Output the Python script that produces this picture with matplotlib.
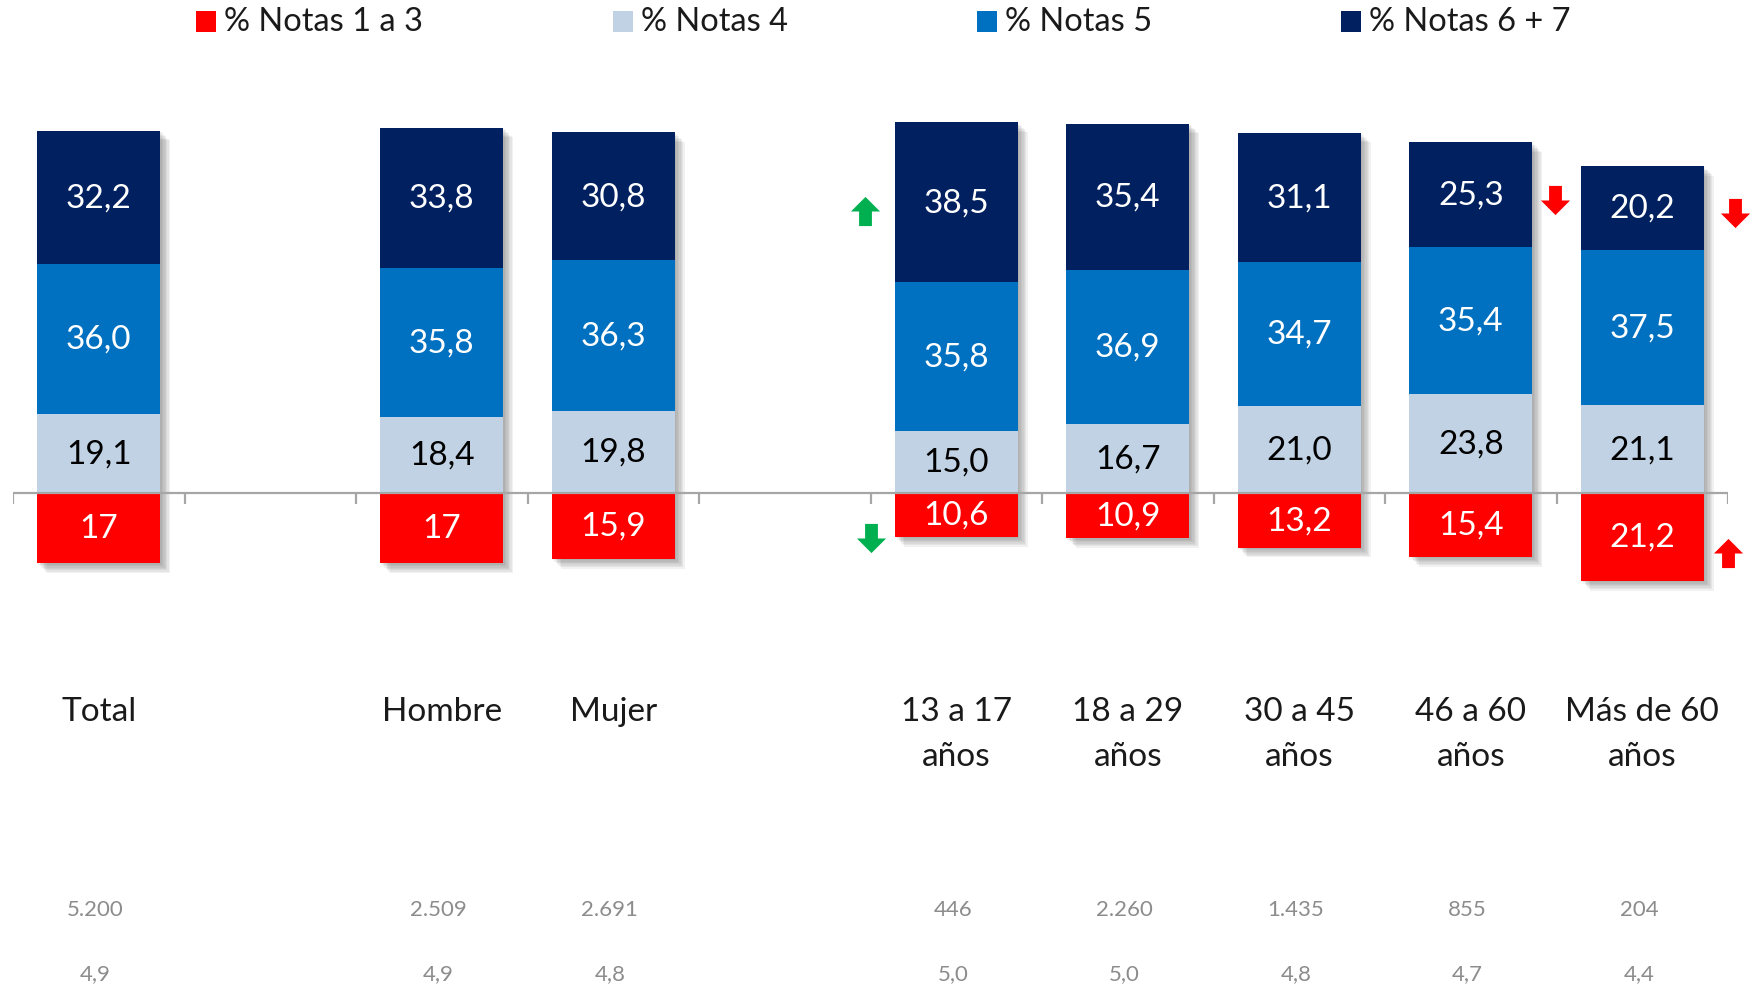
import numpy as np
import matplotlib
matplotlib.use('Agg')
import matplotlib.pyplot as plt
from matplotlib.patches import Rectangle
from matplotlib.path import Path
import matplotlib.patheffects as pe

plt.rcParams['font.family'] = ['Lato', 'DejaVu Sans']

# slot index of each bar (slots 1 and 4 are left empty as separators)
slots = [0, 2, 3, 5, 6, 7, 8, 9]
categories = ['Total', 'Hombre', 'Mujer', '13 a 17\naños', '18 a 29\naños',
              '30 a 45\naños', '46 a 60\naños', 'Más de 60\naños']
notas_1_3 = [17, 17, 15.9, 10.6, 10.9, 13.2, 15.4, 21.2]
notas_1_3_lbl = ['17', '17', '15,9', '10,6', '10,9', '13,2', '15,4', '21,2']
notas_4 = [19.1, 18.4, 19.8, 15.0, 16.7, 21.0, 23.8, 21.1]
notas_5 = [36.0, 35.8, 36.3, 35.8, 36.9, 34.7, 35.4, 37.5]
notas_6_7 = [32.2, 33.8, 30.8, 38.5, 35.4, 31.1, 25.3, 20.2]
base_n = ['5.200', '2.509', '2.691', '446', '2.260', '1.435', '855', '204']
media = ['4,9', '4,9', '4,8', '5,0', '5,0', '4,8', '4,7', '4,4']

series_names = ['% Notas 1 a 3', '% Notas 4', '% Notas 5', '% Notas 6 + 7']
colors = ['#FF0000', '#C0D2E4', '#0070C0', '#002060']

# trend arrows: (slot, value, direction, colour)
arrows = [(4.47, 68, 'up', '#00B050'), (4.5, -10.8, 'down', '#00B050'),
          (8.49, 70.5, 'down', '#FF0000'), (9.54, 67.5, 'down', '#FF0000'),
          (9.5, -14.5, 'up', '#FF0000')]

W, H = 1754, 987
fig = plt.figure(figsize=(W / 100, H / 100), dpi=100)
ax = fig.add_axes([13 / W, 0, 1715 / W, 1])
ax.set_xlim(-0.5, 9.5)
ax.set_ylim(-118.8, 119.0)

x = np.array(slots, dtype=float)
bw = 0.72

neg = -np.array(notas_1_3)
ax.bar(x, neg, bw, color=colors[0], zorder=3)
ax.bar(x, notas_4, bw, color=colors[1], zorder=3)
ax.bar(x, notas_5, bw, bottom=notas_4, color=colors[2], zorder=3)
bot3 = np.array(notas_4) + np.array(notas_5)
ax.bar(x, notas_6_7, bw, bottom=bot3, color=colors[3], zorder=3)

# soft drop shadow: several faint offset copies behind each stack
soft = [pe.SimplePatchShadow(offset=(d, -d), shadow_rgbFace='#404040', alpha=0.07)
        for d in (1, 2, 3, 4, 5, 6, 7)]
for xi, top, r in zip(x, bot3 + np.array(notas_6_7), neg):
    for y0, h in [(0, top), (r, -r)]:
        sh = Rectangle((xi - bw / 2, y0), bw, h, facecolor='white', zorder=2)
        sh.set_path_effects(soft)
        ax.add_patch(sh)

fs = 24
for i, xi in enumerate(x):
    ax.text(xi, neg[i] / 2, notas_1_3_lbl[i], ha='center', va='center', color='white', fontsize=fs, zorder=5)
    ax.text(xi, notas_4[i] / 2, f'{notas_4[i]:.1f}'.replace('.', ','), ha='center', va='center',
            color='black', fontsize=fs, zorder=5)
    ax.text(xi, notas_4[i] + notas_5[i] / 2, f'{notas_5[i]:.1f}'.replace('.', ','), ha='center',
            va='center', color='white', fontsize=fs, zorder=5)
    ax.text(xi, bot3[i] + notas_6_7[i] / 2, f'{notas_6_7[i]:.1f}'.replace('.', ','), ha='center',
            va='center', color='white', fontsize=fs, zorder=5)
    lines = categories[i].split('\n')
    for k, ln in enumerate(lines):
        ax.text(xi, -52.5 - k * 10.9, ln, ha='center', va='center', color='#1a1a1a', fontsize=fs)
    ax.text(xi - 0.02, -100.2, base_n[i], ha='center', va='center', color='#8c8c8c', fontsize=16)
    ax.text(xi - 0.02, -115.6, media[i], ha='center', va='center', color='#8c8c8c', fontsize=16)

# zero axis with tick marks between slots
ax.axhline(0, color='#a6a6a6', lw=1.6, zorder=4)
ax.vlines(np.arange(-0.5, 10, 1), -2.6, 0, color='#a6a6a6', lw=1.6, zorder=4)
for s in ax.spines.values():
    s.set_visible(False)
ax.set_xticks([])
ax.set_yticks([])

# block arrows
up = Path([(-0.22, -0.5), (0.22, -0.5), (0.22, 0.0), (0.5, 0.0), (0, 0.5),
           (-0.5, 0.0), (-0.22, 0.0), (-0.22, -0.5)], closed=True)
down = Path([(px, -py) for px, py in up.vertices], closed=True)
for sx, sy, d, c in arrows:
    ax.plot(sx, sy, marker=up if d == 'up' else down, color=c, ms=21, mew=0,
            linestyle='none', zorder=6, clip_on=False)

# legend across the top
leg_x = [196, 613, 977, 1341]
for lx, name, c in zip(leg_x, series_names, colors):
    fig.add_artist(Rectangle((lx / W, 1 - 33 / H), 20 / W, 21 / H, facecolor=c,
                             transform=fig.transFigure))
    fig.text((lx + 28) / W, 1 - 22 / H, name, ha='left', va='center', fontsize=23.5, color='#1a1a1a')

fig.savefig('out.png', dpi=100)
